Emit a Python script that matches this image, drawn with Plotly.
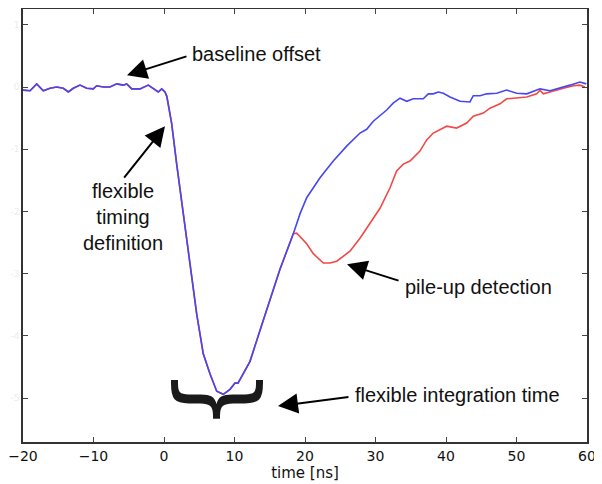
import plotly.graph_objects as go

# shared part of both pulses (time in ns, amplitude in arbitrary units)
t_common = [-20.0, -19.0, -18.06, -17.12, -16.17, -15.22, -14.28, -13.57, -12.87, -11.91,
            -10.96, -10.03, -9.55, -8.61, -7.66, -6.71, -5.77, -5.29, -4.58, -3.40,
            -2.23, -1.52, -0.81, -0.33, 0.14, 0.4, 1.09, 1.80, 2.74, 3.69, 4.64, 5.57,
            6.52, 7.48, 8.41, 9.36, 10.07, 10.5, 11.2, 12.2, 13.6, 15.04, 16.45, 18.34]
v_common = [-0.05, -0.06, 0.05, -0.06, -0.02, 0.0, -0.02, -0.08, -0.02, 0.03,
            -0.02, -0.03, 0.02, 0.0, 0.0, 0.05, 0.03, 0.05, -0.03, -0.03,
            0.03, -0.03, -0.08, -0.03, -0.08, -0.15, -0.59, -1.24, -2.04, -2.85, -3.65, -4.29,
            -4.61, -4.89, -4.94, -4.86, -4.76, -4.76, -4.61, -4.41, -3.92, -3.42, -2.93, -2.36]

# single pulse tail (blue)
t_blue_tail = [19.29, 20.24, 22.13, 24.01, 25.91, 27.8, 28.75, 29.69, 31.59, 32.5, 33.48,
               34.43, 35.36, 36.78, 37.49, 38.2, 38.9, 39.62, 40.57, 41.99, 43.4, 43.87,
               44.82, 45.77, 47.19, 48.6, 50.03, 51.45, 53.33, 54.75, 56.17, 57.59, 59.0,
               59.47, 59.9]
v_blue_tail = [-2.04, -1.78, -1.46, -1.19, -0.95, -0.74, -0.68, -0.55, -0.37, -0.26, -0.18,
               -0.23, -0.19, -0.19, -0.11, -0.11, -0.08, -0.10, -0.16, -0.23, -0.24, -0.14,
               -0.14, -0.11, -0.10, -0.05, -0.10, -0.11, -0.03, -0.06, -0.02, 0.03, 0.08,
               0.06, 0.05]

# pile-up pulse tail (red)
t_red_tail = [18.82, 20.24, 21.18, 22.6, 23.55, 24.5, 25.43, 26.38, 27.8, 29.22, 30.64,
              32.06, 33.0, 33.94, 34.9, 36.3, 37.26, 38.2, 39.15, 40.1, 41.5, 42.94, 43.87,
              45.29, 46.24, 47.66, 48.6, 50.03, 51.45, 52.87, 53.33, 53.8, 55.22, 56.64,
              58.06, 59.0, 59.7]
v_red_tail = [-2.35, -2.52, -2.68, -2.83, -2.83, -2.80, -2.72, -2.64, -2.43, -2.20, -1.95,
              -1.62, -1.35, -1.24, -1.19, -1.03, -0.85, -0.74, -0.68, -0.63, -0.66, -0.58, -0.47,
              -0.42, -0.34, -0.27, -0.19, -0.18, -0.16, -0.11, -0.05, -0.11, -0.06, -0.02,
              0.02, 0.03, 0.0]

x_ticks = [-20, -10, 0, 10, 20, 30, 40, 50, 60]
y_ticks = [1, 0, -1, -2, -3, -4, -5]

fig = go.Figure()
fig.add_trace(go.Scatter(x=t_common + t_red_tail, y=v_common + v_red_tail, mode="lines",
                         line=dict(color="#f24848", width=1.6), showlegend=False))
fig.add_trace(go.Scatter(x=t_common + t_blue_tail, y=v_common + v_blue_tail, mode="lines",
                         line=dict(color="#4646f2", width=1.6), showlegend=False))

afont = dict(family="Liberation Sans, Arial, sans-serif", size=20, color="#111111")

def arrow(hx, hy, tx, ty):
    fig.add_annotation(x=hx, y=hy, ax=tx, ay=ty, xref="x", yref="y", axref="x", ayref="y",
                       text="", showarrow=True, arrowhead=2, arrowsize=2.0, arrowwidth=2.0,
                       arrowcolor="#000000")

def label(x, y, text, xanchor="left"):
    fig.add_annotation(x=x, y=y, xref="x", yref="y", text=text, showarrow=False,
                       xanchor=xanchor, yanchor="middle", font=afont, align="center")

arrow(-5.25, 0.19, 3.40, 0.50)
label(3.69, 0.53, "baseline offset")
arrow(0.14, -0.63, -5.82, -1.48)
label(-5.82, -2.09, "flexible<br>timing<br>definition", xanchor="center")
arrow(25.96, -2.85, 33.48, -3.12)
label(33.9, -3.22, "pile-up detection")
arrow(16.17, -5.13, 26.38, -4.98)
label(26.8, -4.95, "flexible integration time")

fig.add_annotation(x=8.2, y=-5.02, xref="x", yref="y", text="}", showarrow=False,
                   textangle=90, font=dict(family="DejaVu Sans", size=100, color="#1a1a1a"))

axis_common = dict(showline=True, linecolor="#333333", linewidth=1.5, mirror="allticks",
                   ticks="inside", ticklen=5, tickwidth=1, tickcolor="#444444",
                   showgrid=False, zeroline=False, automargin=False)

# page body adds an 8px offset, so the figure is sized to the remaining window
fig.update_layout(
    width=594, height=476,
    margin=dict(l=15, r=15, t=1, b=42),
    paper_bgcolor="white", plot_bgcolor="white",
    xaxis=dict(range=[-20, 60], tickvals=x_ticks,
               ticktext=[("\u2212" + str(-v)) if v < 0 else str(v) for v in x_ticks],
               tickfont=dict(family="DejaVu Sans", size=14, color="#111111"),
               title=dict(text="time [ns]", standoff=0,
                          font=dict(family="DejaVu Sans", size=15, color="#111111")),
               **axis_common),
    yaxis=dict(range=[-5.707, 1.254], tickvals=y_ticks,
               ticktext=[str(v) for v in y_ticks],
               tickfont=dict(family="DejaVu Sans", size=9, color="#ececec"),
               **axis_common),
)

fig.write_html("out.html")
